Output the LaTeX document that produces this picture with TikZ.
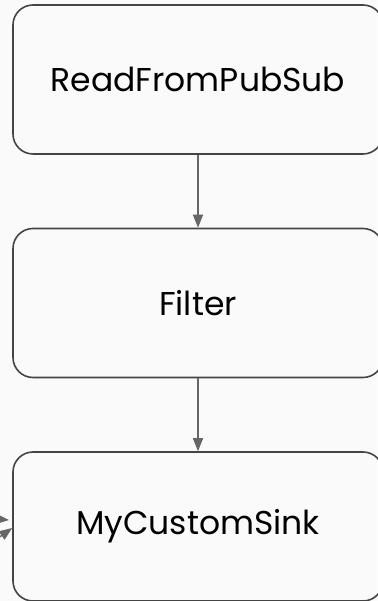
\documentclass[tikz,border=0pt]{standalone}
\usepackage{fontspec}
\setmainfont{Poppins}
\usetikzlibrary{arrows.meta}
\definecolor{bg}{HTML}{FAFAFA}
\definecolor{boxline}{HTML}{444444}
\definecolor{edge}{HTML}{666666}
\tikzset{
  stage/.style={draw=boxline, line width=1.6pt, rounded corners=20pt,
    minimum width=370pt, minimum height=149pt, inner sep=0pt,
    font=\fontsize{33}{37}\selectfont, text=black},
  flow/.style={draw=edge, line width=1.3pt,
    -{Triangle[length=13pt,width=10pt]}, edge}
}
\begin{document}
\begin{tikzpicture}[x=1pt,y=1pt]
  \fill[bg] (0,0) rectangle (377,601);
  \useasboundingbox (0,0) rectangle (377,601);
  \node[stage] (read) at (198,521.5) {ReadFromPubSub};
  \node[stage] (filter) at (198,298) {Filter};
  \node[stage] (sink) at (198,74.5) {MyCustomSink};
  \coordinate (inA) at (-30,84);
  \coordinate (inB) at (-20,50);
  \coordinate (tipA) at (9,81);
  \draw[flow] (read) -- (filter);
  \draw[flow] (filter) -- (sink);
  \draw[flow] (inA) -- (tipA);
  \draw[flow] (inB) -- (sink.west |- 0,73);
\end{tikzpicture}
\end{document}
